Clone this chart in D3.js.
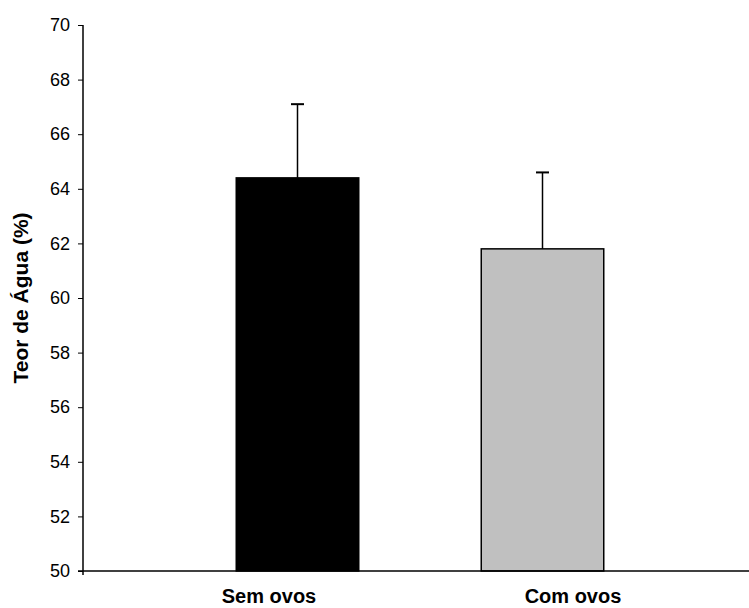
<!DOCTYPE html>
<html>
<head>
<meta charset="utf-8">
<script src="https://cdn.jsdelivr.net/npm/d3@7"></script>
<style>
  html, body { margin: 0; padding: 0; background: #fff; }
  svg { display: block; font-family: "Liberation Sans", Arial, sans-serif; }
</style>
</head>
<body>
<svg id="chart" width="749" height="608"></svg>
<script>
const categories = ["Sem ovos", "Com ovos"];
const values = [64.4, 61.8];
const errors = [2.7, 2.8];
const barColors = ["#000000", "#c0c0c0"];
const yTicks = [50, 52, 54, 56, 58, 60, 62, 64, 66, 68, 70];
const yTitle = "Teor de Água (%)";

const svg = d3.select("#chart");
const axisX = 83, plotRight = 749;
const y = d3.scaleLinear().domain([50, 70]).range([571, 25]);
const x = d3.scaleBand().domain(categories).range([175, 665]).paddingInner(0.5).paddingOuter(0.25);
const xLab = d3.scalePoint().domain(categories).range([269, 573]);

// bars
svg.selectAll("rect.bar").data(categories).join("rect")
  .attr("class", "bar")
  .attr("x", d => x(d))
  .attr("width", x.bandwidth())
  .attr("y", (d, i) => y(values[i]))
  .attr("height", (d, i) => y(50) - y(values[i]))
  .attr("fill", (d, i) => barColors[i])
  .attr("stroke", "#000")
  .attr("stroke-width", 1.5);

// error bars
const eb = svg.selectAll("g.err").data(categories).join("g").attr("class", "err");
eb.append("line")
  .attr("x1", d => x(d) + x.bandwidth() / 2)
  .attr("x2", d => x(d) + x.bandwidth() / 2)
  .attr("y1", (d, i) => y(values[i]))
  .attr("y2", (d, i) => y(values[i] + errors[i]))
  .attr("stroke", "#000").attr("stroke-width", 1.5);
eb.append("line")
  .attr("x1", d => x(d) + x.bandwidth() / 2 - 6.5)
  .attr("x2", d => x(d) + x.bandwidth() / 2 + 6.5)
  .attr("y1", (d, i) => y(values[i] + errors[i]))
  .attr("y2", (d, i) => y(values[i] + errors[i]))
  .attr("stroke", "#000").attr("stroke-width", 2);

// y axis
const yAxis = d3.axisLeft(y).tickValues(yTicks).tickSize(5).tickPadding(8).tickFormat(d3.format("d"));
const gy = svg.append("g").attr("transform", `translate(${axisX},0)`).call(yAxis);
gy.select(".domain").remove();
gy.selectAll(".tick line").attr("stroke", "#000").attr("stroke-width", 1);
gy.selectAll(".tick text").attr("font-size", 18).attr("fill", "#000")
  .attr("font-family", "'Liberation Sans', Arial, sans-serif");
svg.append("line").attr("x1", axisX).attr("x2", axisX).attr("y1", y(70)).attr("y2", y(50) + 4)
  .attr("stroke", "#000").attr("stroke-width", 1.5);

// x axis baseline
svg.append("line").attr("x1", axisX - 5).attr("x2", plotRight).attr("y1", y(50)).attr("y2", y(50))
  .attr("stroke", "#000").attr("stroke-width", 1.5);

// category labels
svg.selectAll("text.cat").data(categories).join("text")
  .attr("class", "cat")
  .attr("x", d => xLab(d))
  .attr("y", 603)
  .attr("text-anchor", "middle")
  .attr("font-weight", "bold")
  .attr("font-size", 20)
  .text(d => d);

// y title
svg.append("text")
  .attr("transform", `translate(28,${(y(50) + y(70)) / 2}) rotate(-90)`)
  .attr("text-anchor", "middle")
  .attr("font-weight", "bold")
  .attr("font-size", 21)
  .text(yTitle);
</script>
</body>
</html>
